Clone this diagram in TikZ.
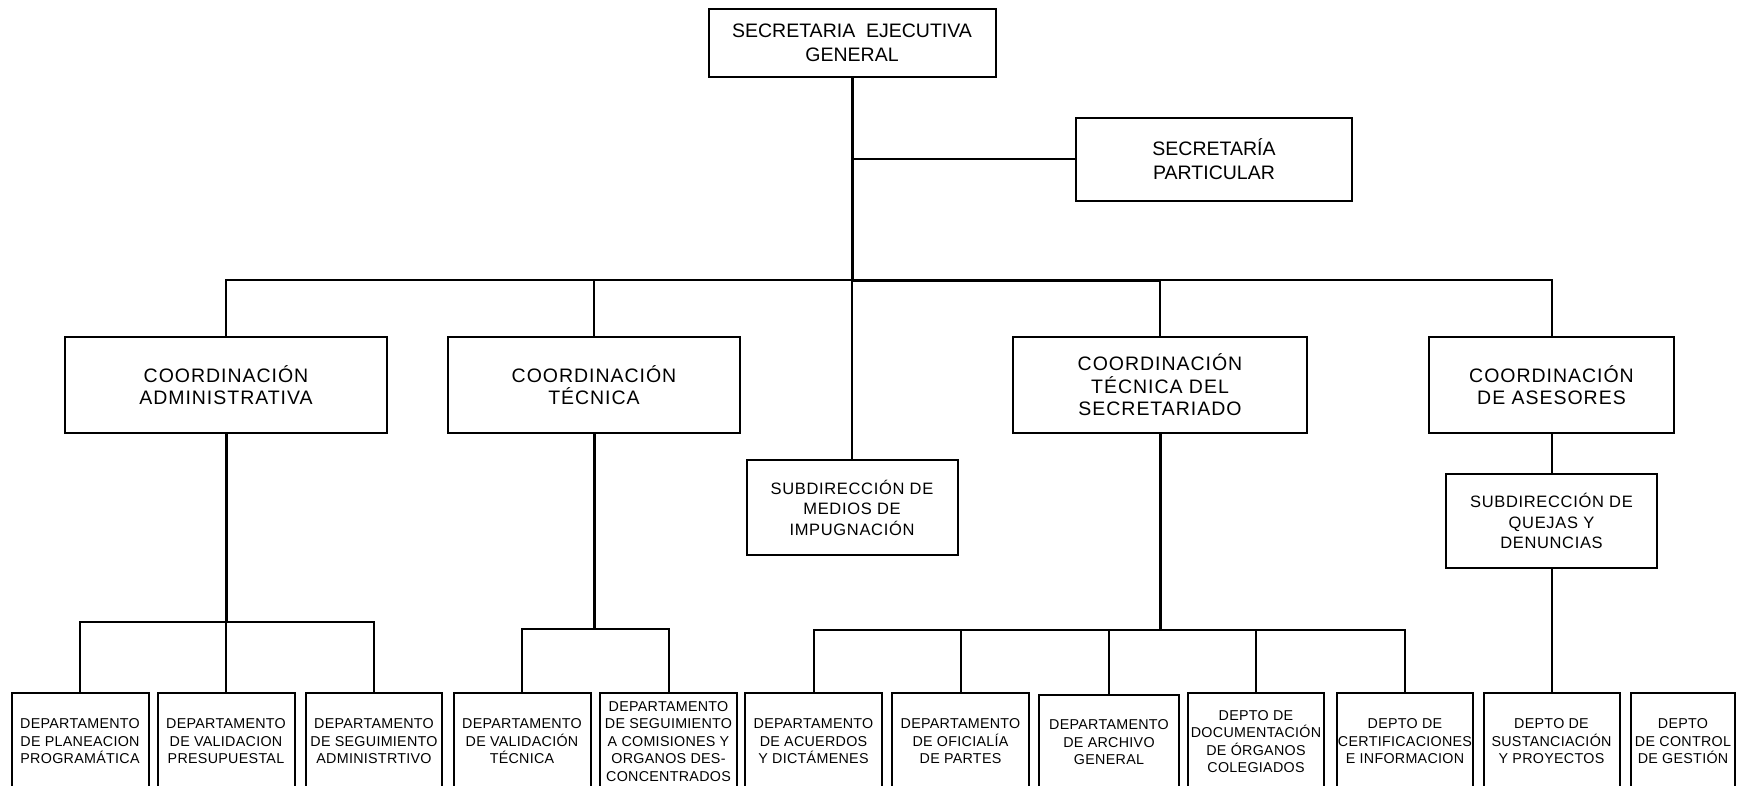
\documentclass[tikz,border=0pt]{standalone}
\usepackage{fontspec}
\setmainfont{Liberation Sans}
\newfontfamily\coordfont[LetterSpace=5]{Liberation Sans}
\newfontfamily\subfont[LetterSpace=4]{Liberation Sans}
\newfontfamily\deptfont[LetterSpace=2]{Liberation Sans}
\tikzset{
  unit/.style={draw=black, line width=2pt, align=center, inner sep=0pt, text=black},
  headbox/.style={unit, font=\fontsize{19.5}{23.5}\selectfont},
  coordbox/.style={unit, minimum height=96pt, font=\coordfont\fontsize{19.5}{22.5}\selectfont},
  subbox/.style={unit, minimum width=211pt, minimum height=95pt, font=\subfont\fontsize{16.5}{20.5}\selectfont},
  deptbox/.style={unit, minimum height=97pt, font=\deptfont\fontsize{14.3}{17.5}\selectfont},
  link/.style={line width=2pt},
  trunk/.style={line width=3pt},
}
\begin{document}
\begin{tikzpicture}[x=1pt,y=-1pt]
\useasboundingbox (0,0) rectangle (1740,786);
\fill[white] (0,0) rectangle (1740,786);
\clip (0,0) rectangle (1740,786);

% top levels
\node[headbox, minimum width=287pt, minimum height=68pt] (seg) at (852,43) {SECRETARIA~ EJECUTIVA\\GENERAL};
\node[headbox, minimum width=276pt, minimum height=83pt] (part) at (1214,159.3) {SECRETARÍA\\PARTICULAR};

% coordinations
\node[coordbox, minimum width=322pt] (admin) at (226,385) {COORDINACIÓN\\ADMINISTRATIVA};
\node[coordbox, minimum width=292pt] (tec) at (594,385) {COORDINACIÓN\\TÉCNICA};
\node[coordbox, minimum width=294pt] (sec) at (1160,385) {COORDINACIÓN\\TÉCNICA DEL\\SECRETARIADO};
\node[coordbox, minimum width=245pt] (ase) at (1551.5,385) {COORDINACIÓN\\DE ASESORES};

% sub-directions
\node[subbox] (medios) at (852,507.5) {SUBDIRECCIÓN DE\\MEDIOS DE\\IMPUGNACIÓN};
\node[subbox, minimum height=94pt] (quejas) at (1551.5,521) {SUBDIRECCIÓN DE\\QUEJAS Y\\DENUNCIAS};

% departments
\node[deptbox, minimum width=137pt] (d1) at (80,741.5) {DEPARTAMENTO\\DE PLANEACION\\PROGRAMÁTICA};
\node[deptbox, minimum width=137pt] (d2) at (226,741.5) {DEPARTAMENTO\\DE VALIDACION\\PRESUPUESTAL};
\node[deptbox, minimum width=136pt] (d3) at (374,741.5) {DEPARTAMENTO\\DE SEGUIMIENTO\\ADMINISTRTIVO};
\node[deptbox, minimum width=137pt] (d4) at (522,741.5) {DEPARTAMENTO\\DE VALIDACIÓN\\TÉCNICA};
\node[deptbox, minimum width=137pt] (d5) at (668.5,741.5) {DEPARTAMENTO\\DE SEGUIMIENTO\\A COMISIONES Y\\ORGANOS DES-\\CONCENTRADOS};
\node[deptbox, minimum width=137pt] (d6) at (813.5,741.5) {DEPARTAMENTO\\DE ACUERDOS\\Y DICTÁMENES};
\node[deptbox, minimum width=137pt] (d7) at (960.5,741.5) {DEPARTAMENTO\\DE OFICIALÍA\\DE PARTES};
\node[deptbox, minimum width=140pt, minimum height=95pt] (d8) at (1109,742.5) {DEPARTAMENTO\\DE ARCHIVO\\GENERAL};
\node[deptbox, minimum width=135.5pt] (d9) at (1256,741.5) {DEPTO DE\\DOCUMENTACIÓN\\DE ÓRGANOS\\COLEGIADOS};
\node[deptbox, minimum width=135.6pt] (d10) at (1405,741.5) {DEPTO DE\\CERTIFICACIONES\\E INFORMACION};
\node[deptbox, minimum width=136pt] (d11) at (1551.5,741.5) {DEPTO DE\\SUSTANCIACIÓN\\Y PROYECTOS};
\node[deptbox, minimum width=103.5pt] (d12) at (1683,741.5) {DEPTO\\DE CONTROL\\DE GESTIÓN};

% main trunk and bus
\coordinate (bus) at (852,280.5);
\draw[trunk] (seg.south) -- (bus);
\draw[link] (bus) -- (medios.north);
\draw[link] (seg.south |- part.west) -- (part.west);
\draw[link] (bus) -| (admin.north);
\draw[link] (bus) -| (tec.north);
\draw[link] (bus) -| (sec.north);
\draw[link] (bus) -| (ase.north);
\draw[line width=3.5pt] (bus) -- (bus -| sec.north);

% administrative branch
\coordinate (ja) at (226,622);
\draw[trunk] (admin.south) -- (ja);
\draw[link] (d1.north) |- (ja) -| (d3.north);
\draw[link] (ja) -- (d2.north);

% technical branch
\coordinate (jt) at (594,629);
\draw[trunk] (tec.south) -- (jt);
\draw[link] (d4.north) |- (jt) -| (d5.north);

% secretariat branch
\coordinate (js) at (1160,630);
\draw[trunk] (sec.south) -- (js);
\draw[link] (d6.north) |- (js) -| (d10.north);
\draw[link] (js -| d7.north) -- (d7.north);
\draw[link] (js -| d8.north) -- (d8.north);
\draw[link] (js -| d9.north) -- (d9.north);

% advisers branch
\draw[link] (ase.south) -- (quejas.north);
\draw[link] (quejas.south) -- (d11.north);
\end{tikzpicture}
\end{document}
